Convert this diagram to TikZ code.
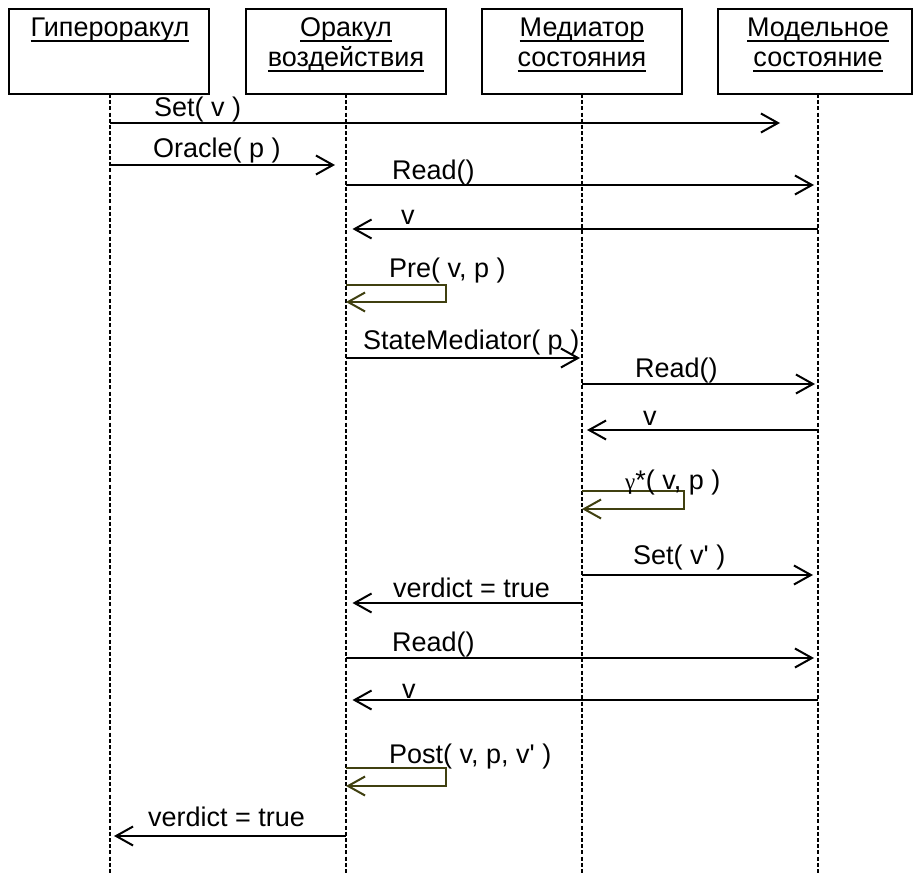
\documentclass[tikz,border=0pt]{standalone}
\usepackage{fontspec}
\setmainfont{Liberation Sans}
\newfontfamily\rawfont{Liberation Sans}[Ligatures=ResetAll]
\newfontfamily\grkserif{Liberation Serif}
\usetikzlibrary{arrows.meta}
\definecolor{loopcol}{RGB}{64,64,16}
% underline sitting close under the baseline
\newcommand\undl[1]{\setbox0\hbox{#1}\rlap{\rule[-4.6pt]{\wd0}{1.7pt}}\box0}
% straight apostrophe
\newcommand\sq{{\rawfont\char39}}
\begin{document}
\begin{tikzpicture}[x=1pt,y=-1pt,
  hdr/.style={draw, line width=1.9pt, minimum width=200pt, minimum height=85pt, inner sep=0pt},
  htxt/.style={anchor=base, inner sep=0pt, font=\fontsize{27}{30}\selectfont},
  life/.style={line width=1.6pt, dash pattern=on 4pt off 2.2pt},
  msg/.style={line width=2pt, -{Straight Barb[length=17pt,width=19pt,line width=2pt]}, shorten >=4pt},
  selfmsg/.style={msg, draw=loopcol, shorten >=0pt},
  lbl/.style={anchor=base west, inner sep=0pt, font=\fontsize{27}{30}\selectfont}]
\useasboundingbox[fill=white] (0,0) rectangle (913,874);

% participants
\node[hdr] (h1) at (109,51.5) {};
\node[hdr] (h2) at (346,51.5) {};
\node[hdr] (h3) at (582,51.5) {};
\node[hdr, minimum width=194pt] (h4) at (815,51.5) {};

\node[htxt] (t1) at (110,37) {\undl{Гипероракул}};
\node[htxt] (t2a) at (346,37) {\undl{Оракул}};
\node[htxt] (t2b) at (346,67) {\undl{воздействия}};
\node[htxt] (t3a) at (582,37) {\undl{Медиатор}};
\node[htxt] (t3b) at (582,67) {\undl{состояния}};
\node[htxt] (t4a) at (818,37) {\undl{Модельное}};
\node[htxt] (t4b) at (818,67) {\undl{состояние}};

% lifelines
\coordinate (L1) at (110,94);
\coordinate (L2) at (346,94);
\coordinate (L3) at (582,94);
\coordinate (L4) at (818,94);
\coordinate (E1) at (110,874);
\coordinate (E2) at (346,874);
\coordinate (E3) at (582,874);
\coordinate (E4) at (818,874);
\draw[life] (L1) -- (E1);
\draw[life] (L2) -- (E2);
\draw[life] (L3) -- (E3);
\draw[life] (L4) -- (E4);

% messages
\coordinate (setend) at (780,123);
\draw[msg, shorten >=0pt] (L1 |- 0,123) -- (setend);
\node[lbl] (m1) at (154,117) {Set( v )};

\draw[msg, shorten >=11pt] (L1 |- 0,165) -- (L2 |- 0,165);
\node[lbl] (m2) at (153,158) {Oracle( p )};

\draw[msg] (L2 |- 0,185) -- (L4 |- 0,185);
\node[lbl] (m3) at (392,180) {Read()};

\draw[msg, shorten >=6.5pt] (L4 |- 0,229) -- (L2 |- 0,229);
\node[lbl] (m4) at (401,225) {v};

\draw[selfmsg] (L2 |- 0,285) -| ++(100,17) -- (L2 |- 0,302);
\node[lbl] (m5) at (389,278) {Pre( v, p )};

\draw[msg, shorten >=2pt] (L2 |- 0,358) -- (L3 |- 0,358);
\node[lbl] (m6) at (363,350) {StateMediator( p )};

\draw[msg, shorten >=3pt] (L3 |- 0,384) -- (L4 |- 0,384);
\node[lbl] (m7) at (635,378) {Read()};

\draw[msg, shorten >=5pt] (L4 |- 0,430) -- (L3 |- 0,430);
\node[lbl] (m8) at (643,425) {v};

\draw[selfmsg] (L3 |- 0,491) -| ++(102,18) -- (L3 |- 0,509);
\node[lbl] (m9) at (625,489) {{\grkserif\fontsize{23}{26}\selectfont γ}*( v, p )};

\draw[msg, shorten >=5pt] (L3 |- 0,575) -- (L4 |- 0,575);
\node[lbl] (m10) at (633,564) {Set( v\sq\ )};

\draw[msg, shorten >=6.5pt] (L3 |- 0,603) -- (L2 |- 0,603);
\node[lbl] (m11) at (393,597) {verdict = true};

\draw[msg] (L2 |- 0,658) -- (L4 |- 0,658);
\node[lbl] (m12) at (392,651) {Read()};

\draw[msg, shorten >=6.5pt] (L4 |- 0,700) -- (L2 |- 0,700);
\node[lbl] (m13) at (402,698) {v};

\draw[selfmsg] (L2 |- 0,768) -| ++(100,18) -- (L2 |- 0,786);
\node[lbl] (m14) at (389,763) {Post( v, p, v\sq\ )};

\draw[msg] (L2 |- 0,836) -- (L1 |- 0,836);
\node[lbl] (m15) at (148,826) {verdict = true};
\end{tikzpicture}
\end{document}
